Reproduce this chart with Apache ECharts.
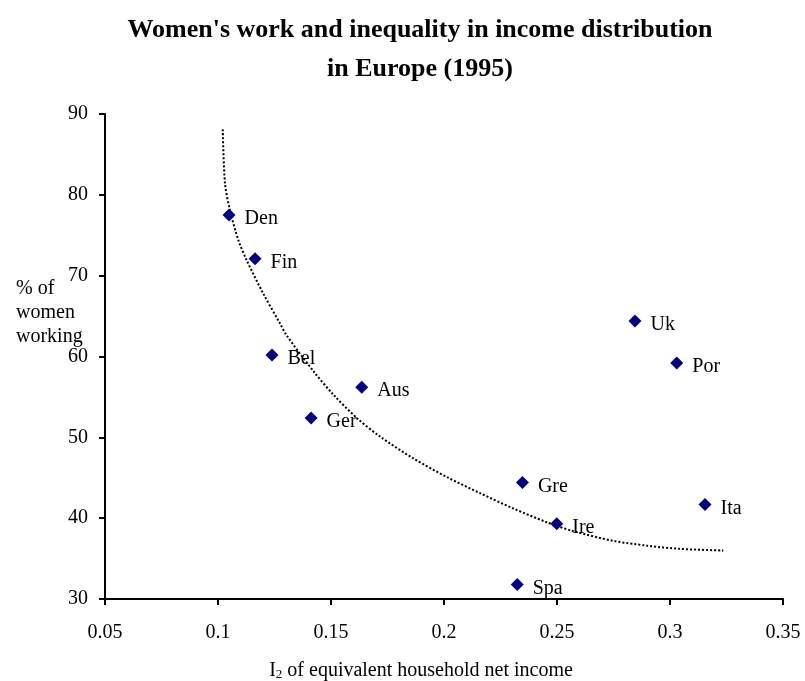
<!DOCTYPE html>
<html>
<head>
<meta charset="utf-8">
<script src="https://cdn.jsdelivr.net/npm/echarts@6/dist/echarts.min.js"></script>
<style>
  html, body { margin: 0; padding: 0; background: #fff; }
  #chart { width: 805px; height: 681px; }
</style>
</head>
<body>
<div id="chart"></div>
<script>
// countries, inequality index (x) and share of women working (y)
const countries = ['Den', 'Fin', 'Bel', 'Aus', 'Ger', 'Gre', 'Ire', 'Spa', 'Uk', 'Por', 'Ita'];
const inequality = [0.1049, 0.1164, 0.1239, 0.1636, 0.1412, 0.2347, 0.2499, 0.2324, 0.2845, 0.3030, 0.3155];
const womenWorking = [77.5, 72.1, 60.2, 56.2, 52.4, 44.4, 39.3, 31.8, 64.4, 59.2, 41.7];

// dotted trend line
const trendX = [0.1021, 0.1031, 0.1053, 0.1090, 0.1127, 0.1200, 0.1274, 0.1304, 0.1422, 0.1510, 0.1614,
  0.1717, 0.1864, 0.2012, 0.2159, 0.2307, 0.2454, 0.2572, 0.2748, 0.2897, 0.3045, 0.3236];
const trendY = [88.1, 81.4, 78.1, 74.4, 71.9, 67.8, 64.1, 62.6, 58.2, 55.3, 52.4,
  50.1, 47.4, 45.1, 43.1, 41.2, 39.5, 38.4, 37.2, 36.6, 36.2, 36.0];

const xTicks = [0.05, 0.1, 0.15, 0.2, 0.25, 0.3, 0.35];
const yTicks = [30, 40, 50, 60, 70, 80, 90];

const serif = '"Liberation Serif", "Times New Roman", serif';

const chart = echarts.init(document.getElementById('chart'));

const points = countries.map((c, i) => ({ name: c, value: [inequality[i], womenWorking[i]] }));
const trend = trendX.map((x, i) => [x, trendY[i]]);

chart.setOption({
  animation: false,
  title: [
    {
      text: "Women's work and inequality in income distribution\nin Europe (1995)",
      left: 415,
      top: 6,
      textAlign: 'center',
      textStyle: { fontFamily: serif, fontSize: 26, fontWeight: 'bold', color: '#000', lineHeight: 39 }
    },
    {
      text: '% of\nwomen\nworking',
      left: 11,
      top: 272,
      textStyle: { fontFamily: serif, fontSize: 20, fontWeight: 'normal', color: '#000', lineHeight: 24 }
    },
    {
      text: 'I{sub|2} of equivalent household net income',
      left: 416,
      top: 655,
      textAlign: 'center',
      textStyle: {
        fontFamily: serif, fontSize: 20, fontWeight: 'normal', color: '#000',
        rich: { sub: { fontFamily: serif, fontSize: 13, verticalAlign: 'bottom', padding: [8, 0, 0, 0] } }
      }
    }
  ],
  grid: { left: 105, right: 22, top: 114, bottom: 82 },
  xAxis: {
    type: 'value',
    min: xTicks[0],
    max: xTicks[xTicks.length - 1],
    interval: 0.05,
    splitLine: { show: false },
    axisLine: { lineStyle: { color: '#000', width: 2 } },
    axisTick: { show: true, length: 6, lineStyle: { color: '#000', width: 2 } },
    axisLabel: { fontFamily: serif, fontSize: 20, color: '#000', margin: 24 }
  },
  yAxis: {
    type: 'value',
    min: yTicks[0],
    max: yTicks[yTicks.length - 1],
    interval: 10,
    splitLine: { show: false },
    axisLine: { show: true, lineStyle: { color: '#000', width: 2 } },
    axisTick: { show: true, length: 6, lineStyle: { color: '#000', width: 2 } },
    axisLabel: { fontFamily: serif, fontSize: 20, color: '#000', margin: 17, padding: [5, 0, 0, 0] }
  },
  series: [
    {
      name: 'trend',
      type: 'line',
      data: trend,
      smooth: 0.3,
      showSymbol: false,
      lineStyle: { color: '#000', width: 2, type: [2, 2] },
      z: 1
    },
    {
      name: 'countries',
      type: 'scatter',
      data: points,
      symbol: 'diamond',
      symbolSize: [13, 13],
      itemStyle: { color: '#000080', opacity: 1 },
      label: {
        show: true,
        position: 'right',
        distance: 9,
        offset: [0, 4],
        formatter: '{b}',
        fontFamily: serif,
        fontSize: 20,
        color: '#000'
      },
      z: 2
    }
  ]
});
</script>
</body>
</html>
